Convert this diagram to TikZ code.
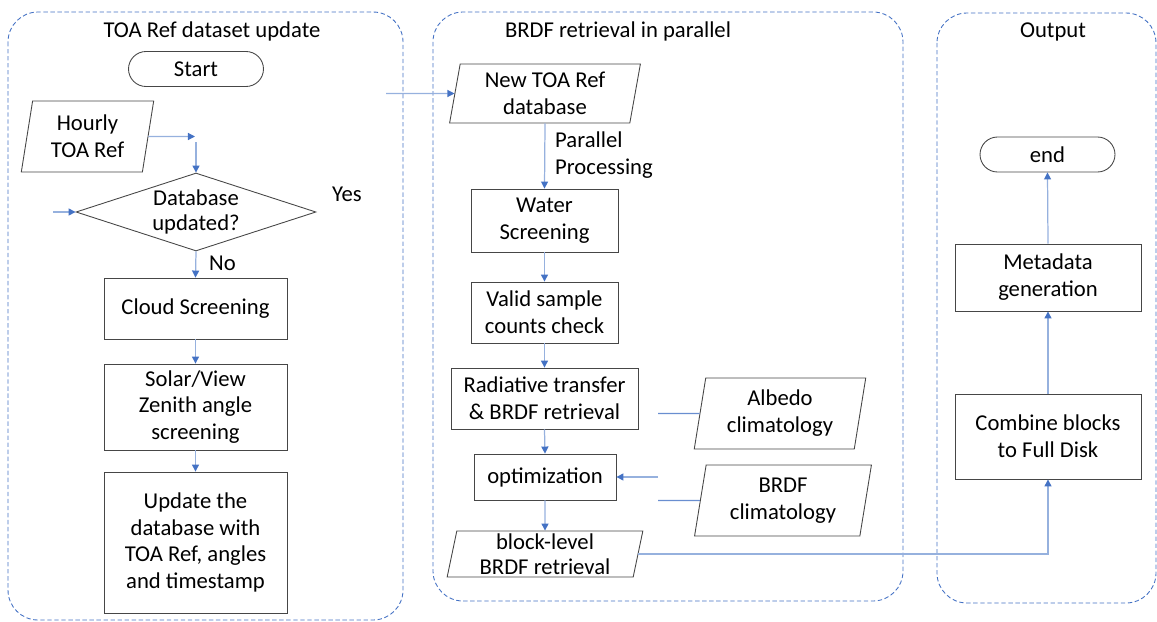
\documentclass[tikz,border=0pt]{standalone}
\usepackage{fontspec}
\setmainfont{Carlito}
\usepackage{tikz}
\usetikzlibrary{shapes,arrows.meta,positioning,calc}
\definecolor{panelBlue}{RGB}{68,114,196}
\definecolor{lineBlue}{RGB}{150,177,222}
\definecolor{boxGray}{RGB}{70,70,70}

\begin{document}
\begin{tikzpicture}[x=0.02cm,y=-0.02cm,
        font=\fontsize{12.9}{15.3}\selectfont,
        panel/.style={draw=panelBlue,dash pattern=on 2.5pt off 1.5pt,rounded corners=0.6cm,line width=0.5pt},
        procbox/.style={draw=boxGray,fill=white,align=center,inner sep=1pt,line width=0.5pt},
        iobox/.style={trapezium,trapezium left angle=80,trapezium right angle=100,trapezium stretches=true,
                      draw=boxGray,fill=white,align=center,inner xsep=0pt,inner ysep=0pt,line width=0.5pt},
        termbox/.style={draw=boxGray,rounded corners=0.35cm,minimum width=2.7cm,minimum height=0.7cm,align=center,line width=0.5pt},
        flow/.style={draw=lineBlue,line width=0.7pt,-{Triangle[length=4pt,width=4pt,color=panelBlue]}},
        link/.style={draw=panelBlue!80,line width=0.6pt}
    ]
        \useasboundingbox (0,0) rectangle (1157,622);

        % Panels
        \draw[panel] (8,12) rectangle (403,620);
        \draw[panel] (433,12) rectangle (903,601);
        \draw[panel] (937,13) rectangle (1156,603);
        \node (t1) at (212,31) {TOA Ref dataset update};
        \node (t2) at (618,31) {BRDF retrieval in parallel};
        \node (t3) at (1053,32) {Output};

        % TOA Ref dataset update
        \node[termbox] (start) at (196,69) {Start};
        \node[iobox,minimum width=2.66cm,minimum height=1.42cm] (hourly) at (87.5,136.5) {Hourly\\TOA Ref};
        \node[diamond,draw=boxGray,aspect=3,inner sep=0pt,minimum width=4.8cm,minimum height=1.56cm,
              align=center,line width=0.5pt,font=\fontsize{12.9}{14.3}\selectfont] (dbcheck) at (196,212) {Database\\updated?};
        \node (yes) at (347,194) {Yes};
        \node[anchor=west] (no) at (203,263) {No};
        \node[procbox,minimum width=3.66cm,minimum height=1.22cm] (cloud) at (195.5,308.5) {Cloud Screening};
        \node[procbox,minimum width=3.66cm,minimum height=1.72cm] (zenith) at (195.5,407) {Solar/View\\Zenith angle\\screening};
        \node[procbox,minimum width=3.66cm,minimum height=2.82cm] (dbupdate) at (195.5,542.5) {Update the\\database with\\TOA Ref, angles\\and timestamp};

        % BRDF retrieval in parallel
        \node[iobox,minimum width=3.84cm,minimum height=1.18cm] (newdb) at (545,93.5) {New TOA Ref\\database};
        \node[anchor=west,align=left] (parlabel) at (549,155) {Parallel\\Processing};
        \node[procbox,minimum width=2.94cm,minimum height=1.26cm] (water) at (544.5,220.5) {Water\\Screening};
        \node[procbox,minimum width=2.94cm,minimum height=1.22cm] (valid) at (544.5,312.5) {Valid sample\\counts check};
        \node[procbox,minimum width=3.74cm,minimum height=1.22cm] (rtm) at (544.5,398.5) {Radiative transfer\\\& BRDF retrieval};
        \node[procbox,minimum width=2.84cm,minimum height=0.92cm] (optim) at (545,477) {optimization};
        \node[iobox,minimum width=3.92cm,minimum height=0.92cm,font=\fontsize{12.9}{14}\selectfont] (blockout) at (545,554) {block-level\\BRDF retrieval};
        \node[iobox,minimum width=3.44cm,minimum height=1.42cm] (albedo) at (780,413.5) {Albedo\\climatology};
        \node[iobox,minimum width=3.56cm,minimum height=1.42cm] (brdfclim) at (783,500.5) {BRDF\\climatology};

        % Output
        \node[termbox] (finish) at (1047.5,154.5) {end};
        \node[procbox,minimum width=3.72cm,minimum height=1.34cm] (meta) at (1048,277.5) {Metadata\\generation};
        \node[procbox,minimum width=3.72cm,minimum height=1.7cm] (combine) at (1048,436.5) {Combine blocks\\to Full Disk};

        % free ends
        \coordinate (hourlyTip) at (195,136.5);
        \coordinate (dbIn) at (196,142);
        \coordinate (loopIn) at (53,212);
        \coordinate (dbFeed) at (386,93.5);
        \coordinate (albedoTap) at (658,413.5);
        \coordinate (optimIn) at (658,477);
        \coordinate (brdfTap) at (658,500.5);

        % Connectors
        \draw[flow] (hourly.east) -- (hourlyTip);
        \draw[flow] (dbIn) -- (dbcheck.north);
        \draw[flow] (loopIn) -- (dbcheck.west);
        \draw[flow] (dbcheck.south) -- (cloud.north);
        \draw[flow] (cloud.south) -- (zenith.north);
        \draw[flow] (zenith.south) -- (dbupdate.north);
        \draw[flow] (dbFeed) -- (newdb.west);
        \draw[flow] (newdb.south) -- (water.north);
        \draw[flow] (water.south) -- (valid.north);
        \draw[flow] (valid.south) -- (rtm.north);
        \draw[flow] (rtm.south) -- (optim.north);
        \draw[flow] (optim.south) -- (blockout.north);
        \draw[link] (albedoTap) -- (albedo.west);
        \draw[flow] (optimIn) -- (optim.east);
        \draw[link] (brdfTap) -- (brdfclim.west);
        \draw[flow] (blockout.east) -| (combine.south);
        \draw[flow] (combine.north) -- (meta.south);
        \draw[flow] (meta.north) -- (finish.south);

    \end{tikzpicture}
\end{document}
